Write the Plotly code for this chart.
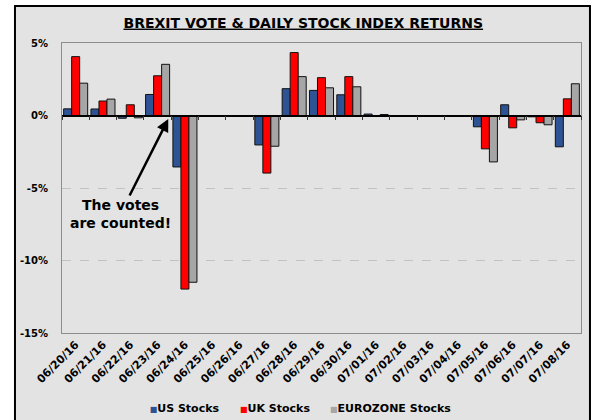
import plotly.graph_objects as go

dates = ["06/20/16", "06/21/16", "06/22/16", "06/23/16", "06/24/16", "06/25/16",
         "06/26/16", "06/27/16", "06/28/16", "06/29/16", "06/30/16", "07/01/16",
         "07/02/16", "07/03/16", "07/04/16", "07/05/16", "07/06/16", "07/07/16",
         "07/08/16"]
us_stocks = [0.46, 0.45, -0.19, 1.45, -3.55, None, None, -2.03, 1.85, 1.73, 1.43, 0.10,
             None, None, None, -0.78, 0.74, -0.09, -2.16]
uk_stocks = [4.06, 1.00, 0.74, 2.74, -11.97, None, None, -3.97, 4.34, 2.61, 2.68, None,
             None, None, None, -2.30, -0.85, -0.50, 1.15]
ez_stocks = [2.23, 1.13, -0.16, 3.53, -11.5, None, None, -2.12, 2.68, 1.91, 1.98, 0.07,
             None, None, None, -3.20, -0.30, -0.64, 2.19]
y_ticks = [5, 0, -5, -10, -15]
y_labels = ["5%", "0%", "-5%", "-10%", "-15%"]
series_names = ["US Stocks", "UK Stocks", "EUROZONE Stocks"]
series_colors = ["#2e5395", "#ff0000", "#a6a6a6"]
legend_ids = ["legend", "legend2", "legend3"]
legend_x = [0.0919, 0.2659, 0.4393]

FONT = "DejaVu Sans"
BG = "#e3e3e3"

fig = go.Figure()
for name, vals, col in zip(series_names, [us_stocks, uk_stocks, ez_stocks], series_colors):
    fig.add_trace(go.Bar(x=dates, y=vals, name=name, marker_color=col, showlegend=False,
                         marker_line=dict(color="#111111", width=1)))

# legend entries: small coloured squares written into the legend text
for name, col, lid in zip(series_names, series_colors, legend_ids):
    fig.add_trace(go.Scatter(
        x=[None], y=[None], mode="markers", legend=lid,
        marker=dict(color="rgba(0,0,0,0)", size=1),
        name=f"<span style='color:{col};font-size:8px'>■</span><b>{name}</b>"))

# helper invisible trace for the zero-line axis with boundary ticks
fig.add_trace(go.Scatter(x=dates, y=[0] * len(dates), xaxis="x2", mode="markers",
                         marker=dict(opacity=0), showlegend=False, hoverinfo="skip"))

legend_style = dict(orientation="h", xanchor="left", y=-0.206, yanchor="top",
                    font=dict(size=11, family=FONT), bgcolor="rgba(0,0,0,0)",
                    itemwidth=30)

fig.update_layout(
    width=597, height=420,
    margin=dict(l=62, r=16, t=43, b=87, autoexpand=False),
    paper_bgcolor="white", plot_bgcolor=BG,
    barmode="group", bargap=0.12, bargroupgap=0,
    font=dict(family=FONT, color="black"),
    title=dict(text="<b><u>BREXIT VOTE &amp; DAILY STOCK INDEX RETURNS</u></b>",
               x=0.508, xref="container", xanchor="center",
               y=0.946, yref="container", yanchor="middle",
               font=dict(size=14, family=FONT, color="black")),
    xaxis=dict(type="category", categoryorder="array", categoryarray=dates,
               tickangle=-45, tickfont=dict(size=11, family=FONT, weight="bold"),
               showline=True, linecolor="#8c8c8c", linewidth=1, mirror=True,
               ticks="", showgrid=False, range=[-0.5, len(dates) - 0.5],
               automargin=False),
    xaxis2=dict(type="category", categoryorder="array", categoryarray=dates,
                overlaying="x", anchor="free", position=0.75, side="bottom",
                showticklabels=False, ticks="outside", ticklen=4, tickwidth=1,
                tickcolor="#333333", tickson="boundaries", showline=True,
                linecolor="black", linewidth=1.5, showgrid=False,
                range=[-0.5, len(dates) - 0.5], automargin=False),
    yaxis=dict(range=[-15, 5], tickvals=y_ticks, ticktext=y_labels,
               tickfont=dict(size=10, family=FONT, weight="bold"),
               showgrid=True, gridcolor="#c2c2c2", griddash="dash", gridwidth=1,
               showline=True, linecolor="#8c8c8c", linewidth=1, mirror=True,
               zeroline=False, ticks="", ticklabelstandoff=11, automargin=False),
    legend=dict(x=legend_x[0], **legend_style),
    legend2=dict(x=legend_x[1], **legend_style),
    legend3=dict(x=legend_x[2], **legend_style),
    shapes=[dict(type="rect", xref="paper", yref="paper", x0=-0.0906, x1=1.0173,
                 y0=-0.35, y1=1.1276, line=dict(color="black", width=2),
                 fillcolor=BG, layer="below")],
    annotations=[dict(x=3.39, y=-0.24, xref="x", yref="y",
                      text="<b>The votes<br>are counted!</b>",
                      showarrow=True, arrowhead=2, arrowsize=1, arrowwidth=2.5,
                      arrowcolor="black", axref="pixel", ayref="pixel",
                      ax=-48, ay=95, font=dict(size=14, family=FONT, color="black"),
                      align="center")],
)

fig.write_html("out.html")
